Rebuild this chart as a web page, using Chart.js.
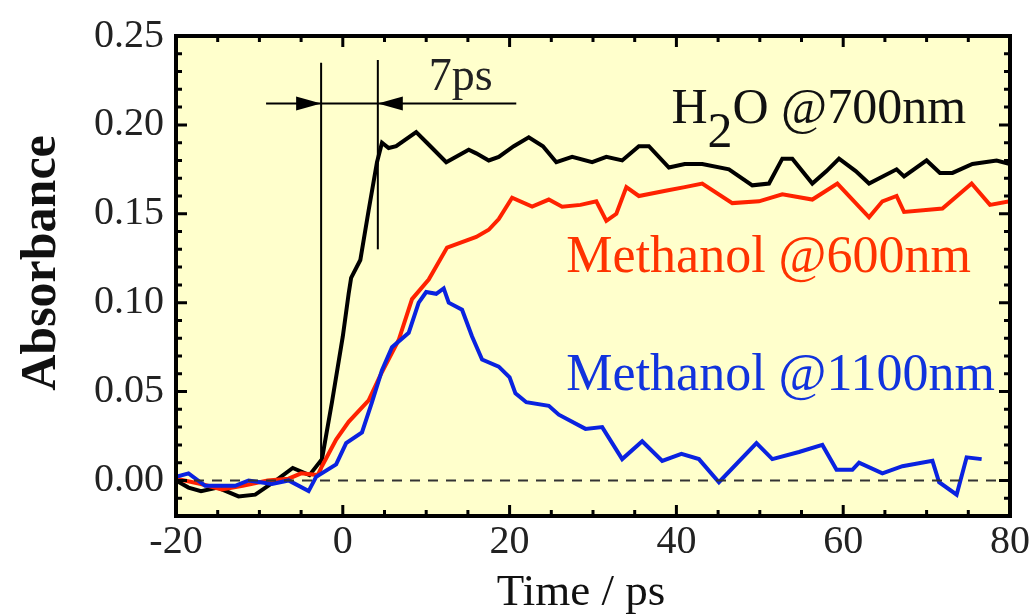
<!DOCTYPE html>
<html>
<head>
<meta charset="utf-8">
<script src="https://cdn.jsdelivr.net/npm/chart.js@4"></script>
<style>
  html, body { margin: 0; padding: 0; background: #fff; }
</style>
</head>
<body>
<canvas id="grafica" width="1034" height="616"></canvas>
<script>
// ---- datos ----
const xTicks = [-20, 0, 20, 40, 60, 80];
const yTicks = [0.00, 0.05, 0.10, 0.15, 0.20, 0.25];

const h2oTime = [-20, -18.5, -17, -15, -12.5, -10.5, -8, -6, -4, -2.5, -1.3, 0, 0.7, 1, 2.1, 3.1, 4.1, 4.7, 5.5, 6.4,
  8.8, 10.5, 12.4, 15.1, 16, 17.5, 18.7, 20.5, 22.3, 24, 25.6, 27.5, 29.9, 31.6, 33.5, 35.5, 36.7, 39.1, 41, 43.1,
  46.3, 49.1, 51.1, 52.7, 53.9, 56.3, 58, 59.5, 61.5, 63.1, 66.4, 67.3, 70, 71.6, 73.1, 75.5, 78.4, 80];
const h2oAbs = [0.0, -0.004, -0.006, -0.004, -0.009, -0.008, 0.0, 0.007, 0.003, 0.012, 0.044, 0.081, 0.105, 0.114, 0.124, 0.152, 0.179, 0.19, 0.187, 0.188,
  0.196, 0.188, 0.179, 0.186, 0.184, 0.18, 0.182, 0.188, 0.193, 0.188, 0.179, 0.182, 0.179, 0.182, 0.18, 0.188, 0.188, 0.176, 0.178, 0.178,
  0.175, 0.166, 0.167, 0.181, 0.181, 0.167, 0.174, 0.181, 0.174, 0.167, 0.175, 0.171, 0.18, 0.173, 0.173, 0.178, 0.18, 0.178];

const met600Time = [-20, -17, -14.5, -12, -9, -6.5, -5, -3, -2.5, -0.8, 0.7, 3.1, 4.7, 6.7, 8.3, 10.3, 12.5, 16, 17.5, 18.7,
  20.3, 22.7, 24.7, 26.3, 28.5, 30.4, 31.6, 32.8, 34, 35.5, 38.7, 41, 43.1, 46.7, 49.9, 52.7, 56.3, 59.3, 63.1, 64.7,
  66.4, 67.3, 71.9, 75.4, 77.6, 80];
const met600Abs = [0.001, -0.002, -0.005, -0.003, 0.0, 0.001, 0.004, 0.003, 0.008, 0.023, 0.033, 0.045, 0.061, 0.079, 0.102, 0.113, 0.131, 0.137, 0.141, 0.147,
  0.159, 0.154, 0.158, 0.154, 0.155, 0.157, 0.146, 0.150, 0.165, 0.160, 0.163, 0.165, 0.167, 0.156, 0.157, 0.161, 0.158, 0.167, 0.148, 0.157,
  0.160, 0.151, 0.153, 0.167, 0.155, 0.157];

const met1100Time = [-20, -18.5, -16.5, -12.9, -11.3, -8.5, -6.5, -4.1, -3.2, -0.8, 0.4, 2.3, 3.5, 4.7, 5.9, 7.9, 9.1, 10, 11.2, 12.1,
  12.7, 14.3, 15.5, 16.7, 18.7, 20, 20.7, 22, 24.7, 25.9, 29.1, 31.1, 33.5, 35.9, 38.3, 40.6, 42.7, 45.1, 49.6, 51.5,
  54.7, 57.5, 59.2, 61.1, 61.9, 64.7, 67.1, 70.7, 71.5, 73.6, 74.8, 76.6];
const met1100Abs = [0.002, 0.004, -0.003, -0.003, 0.0, -0.002, 0.0, -0.006, 0.002, 0.009, 0.021, 0.027, 0.044, 0.062, 0.075, 0.083, 0.1, 0.106, 0.105, 0.108,
  0.1, 0.096, 0.081, 0.068, 0.064, 0.058, 0.049, 0.044, 0.042, 0.037, 0.029, 0.030, 0.012, 0.022, 0.011, 0.015, 0.012, -0.001, 0.021, 0.012,
  0.016, 0.02, 0.006, 0.006, 0.01, 0.004, 0.008, 0.011, -0.001, -0.008, 0.013, 0.012];

// marcas del intervalo de 7ps (tiempo / absorbancia)
const markStart = [-2.6, 0.005, 0.235];
const markEnd = [4.2, 0.13, 0.2365];
const markBar = [-9.2, 20.8, 0.212];

const labelNames = ['H', '2', 'O @700nm', 'Methanol @600nm', 'Methanol @1100nm', '7ps'];
const axisNames = ['Time / ps', 'Absorbance'];

function puntos(t, a) {
  return t.map((v, i) => ({ x: v, y: a[i] }));
}

const SERIF = '"Liberation Serif", "Times New Roman", serif';

const dibujos = {
  id: 'dibujos',
  beforeDatasetsDraw(chart) {
    const { ctx, chartArea: a } = chart;
    ctx.save();
    ctx.fillStyle = '#ffffcc';
    ctx.fillRect(a.left, a.top, a.right - a.left, a.bottom - a.top);
    ctx.restore();
  },
  afterDatasetsDraw(chart) {
    const { ctx, chartArea: a } = chart;
    const sx = chart.scales.x, sy = chart.scales.y;
    ctx.save();

    // flechas
    const yb = sy.getPixelForValue(markBar[2]);
    const x1 = sx.getPixelForValue(markStart[0]);
    const x2 = sx.getPixelForValue(markEnd[0]);
    ctx.fillStyle = '#000';
    ctx.beginPath();
    ctx.moveTo(x1, yb); ctx.lineTo(x1 - 25, yb - 7); ctx.lineTo(x1 - 25, yb + 7); ctx.closePath();
    ctx.fill();
    ctx.beginPath();
    ctx.moveTo(x2, yb); ctx.lineTo(x2 + 25, yb - 7); ctx.lineTo(x2 + 25, yb + 7); ctx.closePath();
    ctx.fill();

    // textos de las series
    ctx.textBaseline = 'alphabetic';
    ctx.textAlign = 'left';
    ctx.font = '50px ' + SERIF;
    ctx.fillStyle = '#111';
    let px = sx.getPixelForValue(39.4);
    let py = sy.getPixelForValue(0.201);
    ctx.fillText(labelNames[0], px, py);
    px += ctx.measureText(labelNames[0]).width;
    ctx.fillText(labelNames[1], px, py + 24);
    px += ctx.measureText(labelNames[1]).width;
    ctx.fillText(labelNames[2], px, py);

    ctx.font = '52px ' + SERIF;
    ctx.fillStyle = '#ff3300';
    ctx.fillText(labelNames[3], sx.getPixelForValue(26.8), sy.getPixelForValue(0.117));
    ctx.fillStyle = '#1133dd';
    ctx.fillText(labelNames[4], sx.getPixelForValue(26.8), sy.getPixelForValue(0.051));

    ctx.fillStyle = '#222';
    ctx.font = '46px ' + SERIF;
    ctx.fillText(labelNames[5], sx.getPixelForValue(10.3), sy.getPixelForValue(0.2197));

    // titulos de los ejes
    ctx.fillStyle = '#111';
    ctx.textAlign = 'center';
    ctx.font = '45px ' + SERIF;
    ctx.fillText(axisNames[0], 581, 605);
    ctx.save();
    ctx.translate(55, 263);
    ctx.rotate(-Math.PI / 2);
    ctx.font = 'bold 50px ' + SERIF;
    ctx.fillText(axisNames[1], 0, 0);
    ctx.restore();

    // marcas hacia dentro
    ctx.strokeStyle = '#000';
    ctx.lineWidth = 3;
    ctx.beginPath();
    for (let v = -20; v <= 80.001; v += 5) {
      const x = sx.getPixelForValue(v);
      const len = (Math.round(v) % 20 === 0) ? 11 : 6;
      ctx.moveTo(x, a.bottom); ctx.lineTo(x, a.bottom - len);
      ctx.moveTo(x, a.top); ctx.lineTo(x, a.top + len);
    }
    for (let k = -2; k <= 25; k++) {
      const y = sy.getPixelForValue(k / 100);
      const len = (k % 5 === 0) ? 11 : 6;
      ctx.moveTo(a.left, y); ctx.lineTo(a.left + len, y);
      ctx.moveTo(a.right, y); ctx.lineTo(a.right - len, y);
    }
    ctx.stroke();

    // marco
    ctx.lineWidth = 4;
    ctx.strokeRect(a.left, a.top, a.right - a.left, a.bottom - a.top);
    ctx.restore();
  }
};

const ctx = document.getElementById('grafica').getContext('2d');

new Chart(ctx, {
  type: 'line',
  data: {
    datasets: [
      {
        label: 'cero',
        data: [{ x: -20, y: 0 }, { x: 80, y: 0 }],
        borderColor: '#333',
        borderWidth: 2,
        borderDash: [10, 8],
        pointRadius: 0
      },
      {
        label: 'Methanol @1100nm',
        data: puntos(met1100Time, met1100Abs),
        borderColor: '#0a22e0',
        borderWidth: 4,
        pointRadius: 0
      },
      {
        label: 'Methanol @600nm',
        data: puntos(met600Time, met600Abs),
        borderColor: '#ff2200',
        borderWidth: 4,
        pointRadius: 0
      },
      {
        label: 'H2O @700nm',
        data: puntos(h2oTime, h2oAbs),
        borderColor: '#000',
        borderWidth: 4,
        pointRadius: 0
      },
      {
        label: 'inicio',
        data: [{ x: markStart[0], y: markStart[1] }, { x: markStart[0], y: markStart[2] }],
        borderColor: '#000',
        borderWidth: 2,
        pointRadius: 0
      },
      {
        label: 'fin',
        data: [{ x: markEnd[0], y: markEnd[1] }, { x: markEnd[0], y: markEnd[2] }],
        borderColor: '#000',
        borderWidth: 2,
        pointRadius: 0
      },
      {
        label: 'barra',
        data: [{ x: markBar[0], y: markBar[2] }, { x: markBar[1], y: markBar[2] }],
        borderColor: '#000',
        borderWidth: 2,
        pointRadius: 0
      }
    ]
  },
  options: {
    responsive: false,
    animation: false,
    layout: { padding: { top: 35, right: 24, left: 0, bottom: 0 } },
    plugins: {
      legend: { display: false },
      tooltip: { enabled: false }
    },
    elements: { line: { tension: 0 } },
    scales: {
      x: {
        type: 'linear',
        min: -20,
        max: 80,
        afterFit: (s) => { s.height = 100; },
        afterBuildTicks: (s) => { s.ticks = xTicks.map(v => ({ value: v })); },
        grid: { display: false, drawTicks: false },
        border: { display: false },
        ticks: {
          padding: 2,
          color: '#222',
          font: { family: SERIF, size: 40 },
          maxRotation: 0,
          callback: (v) => String(v)
        }
      },
      y: {
        min: -0.02,
        max: 0.25,
        afterFit: (s) => { s.width = 176; },
        afterBuildTicks: (s) => { s.ticks = yTicks.map(v => ({ value: v })); },
        grid: { display: false, drawTicks: false },
        border: { display: false },
        ticks: {
          padding: 12,
          color: '#222',
          font: { family: SERIF, size: 40 },
          callback: (v) => Number(v).toFixed(2)
        }
      }
    }
  },
  plugins: [dibujos]
});
</script>
</body>
</html>
